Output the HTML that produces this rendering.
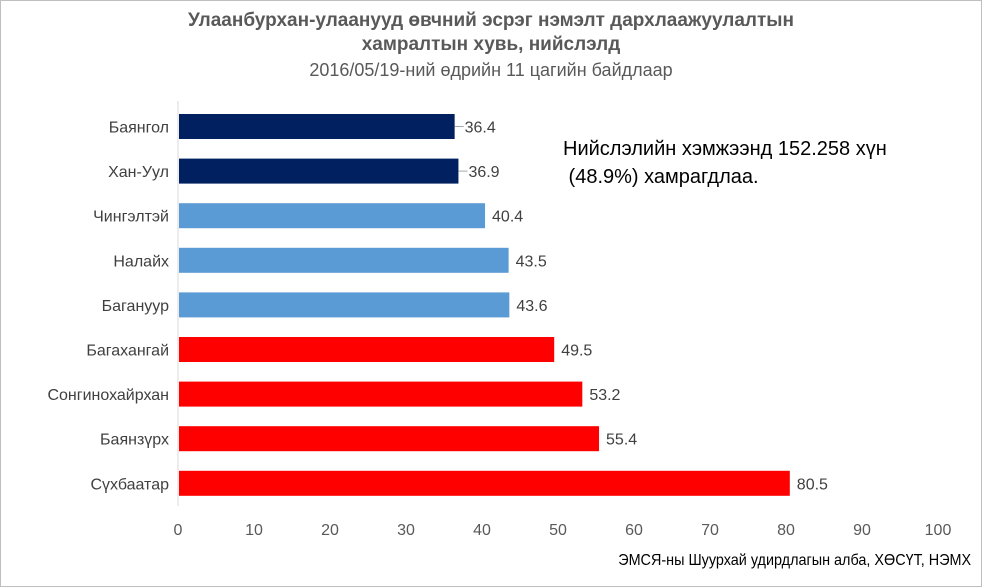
<!DOCTYPE html>
<html><head><meta charset="utf-8">
<style>
html,body{margin:0;padding:0;background:#fff;}
#wrap{position:relative;width:980px;height:585px;border:1px solid #bfbfbf;background:#fff;overflow:hidden;font-family:"Liberation Sans",sans-serif;}
.t{position:absolute;white-space:nowrap;}
</style></head><body>
<div id="wrap">
<div class="t" style="left:0;width:980px;text-align:center;top:8px;font-size:19px;font-weight:bold;color:#595959;line-height:24px;">Улаанбурхан-улаанууд өвчний эсрэг нэмэлт дархлаажуулалтын<br>хамралтын хувь, нийслэлд</div>
<div class="t" style="left:0;width:980px;text-align:center;top:59px;font-size:18px;color:#595959;">2016/05/19-ний өдрийн 11 цагийн байдлаар</div>
<div class="t" style="left:562px;top:134px;font-size:20px;color:#000;line-height:28px;">Нийслэлийн хэмжээнд 152.258 хүн<br>&nbsp;(48.9%) хамрагдлаа.</div>
<div class="t" style="right:10px;top:551px;font-size:16px;color:#000;transform:scaleX(0.9);transform-origin:right;">ЭМСЯ-ны Шуурхай удирдлагын алба, ХӨСҮТ, НЭМХ</div>
<svg id="svg" width="980" height="585" style="position:absolute;left:0;top:0"></svg>
</div>
<script>
const categories=["Баянгол","Хан-Уул","Чингэлтэй","Налайх","Багануур","Багахангай","Сонгинохайрхан","Баянзүрх","Сүхбаатар"];
const values=[36.4,36.9,40.4,43.5,43.6,49.5,53.2,55.4,80.5];
const colorGroups=["dark","dark","light","light","light","red","red","red","red"];
const xTicks=[0,10,20,30,40,50,60,70,80,90,100];
const palette={dark:"#002060",light:"#5b9bd5",red:"#ff0000"};
const NS="http://www.w3.org/2000/svg";
const svg=document.getElementById('svg');
const x0=177,x1=937,xMin=0,xMax=100;
const xs=v=>x0+(v-xMin)/(xMax-xMin)*(x1-x0);
const y0=125.5,step=44.6,bh=25;
const ys=i=>y0+i*step;
function mk(tag,attrs){const e=document.createElementNS(NS,tag);for(const k in attrs)e.setAttribute(k,attrs[k]);svg.appendChild(e);return e;}
let ax=mk('line',{x1:x0,x2:x0,y1:100,y2:505,stroke:'#d9d9d9','stroke-width':1});


categories.forEach((c,i)=>{
  const y=ys(i);
  const r=mk('rect',{x:x0+1,y:y-bh/2,width:xs(values[i])-x0-1,height:bh,fill:palette[colorGroups[i]]});
  
  
  const lab=mk('text',{x:168,y:y+6,'text-anchor':'end','font-size':16,fill:'#404040','font-family':'Liberation Sans, sans-serif'});
  lab.textContent=c;
  
  
  const lead=values[i]<39;
  if(lead){
    const l=mk('line',{x1:xs(values[i]),x2:xs(values[i])+9,y1:y,y2:y,stroke:'#a6a6a6','stroke-width':1});
    
    
  }
  const v=mk('text',{x:xs(values[i])+(lead?10:7),y:y+6,'font-size':16,fill:'#404040','font-family':'Liberation Sans, sans-serif'});
  v.textContent=values[i];
  
  
});
xTicks.forEach(t=>{
  const e=mk('text',{x:xs(t),y:534,'text-anchor':'middle','font-size':16,fill:'#595959','font-family':'Liberation Sans, sans-serif'});
  e.textContent=t;
  
  
});
</script>
</body></html>
